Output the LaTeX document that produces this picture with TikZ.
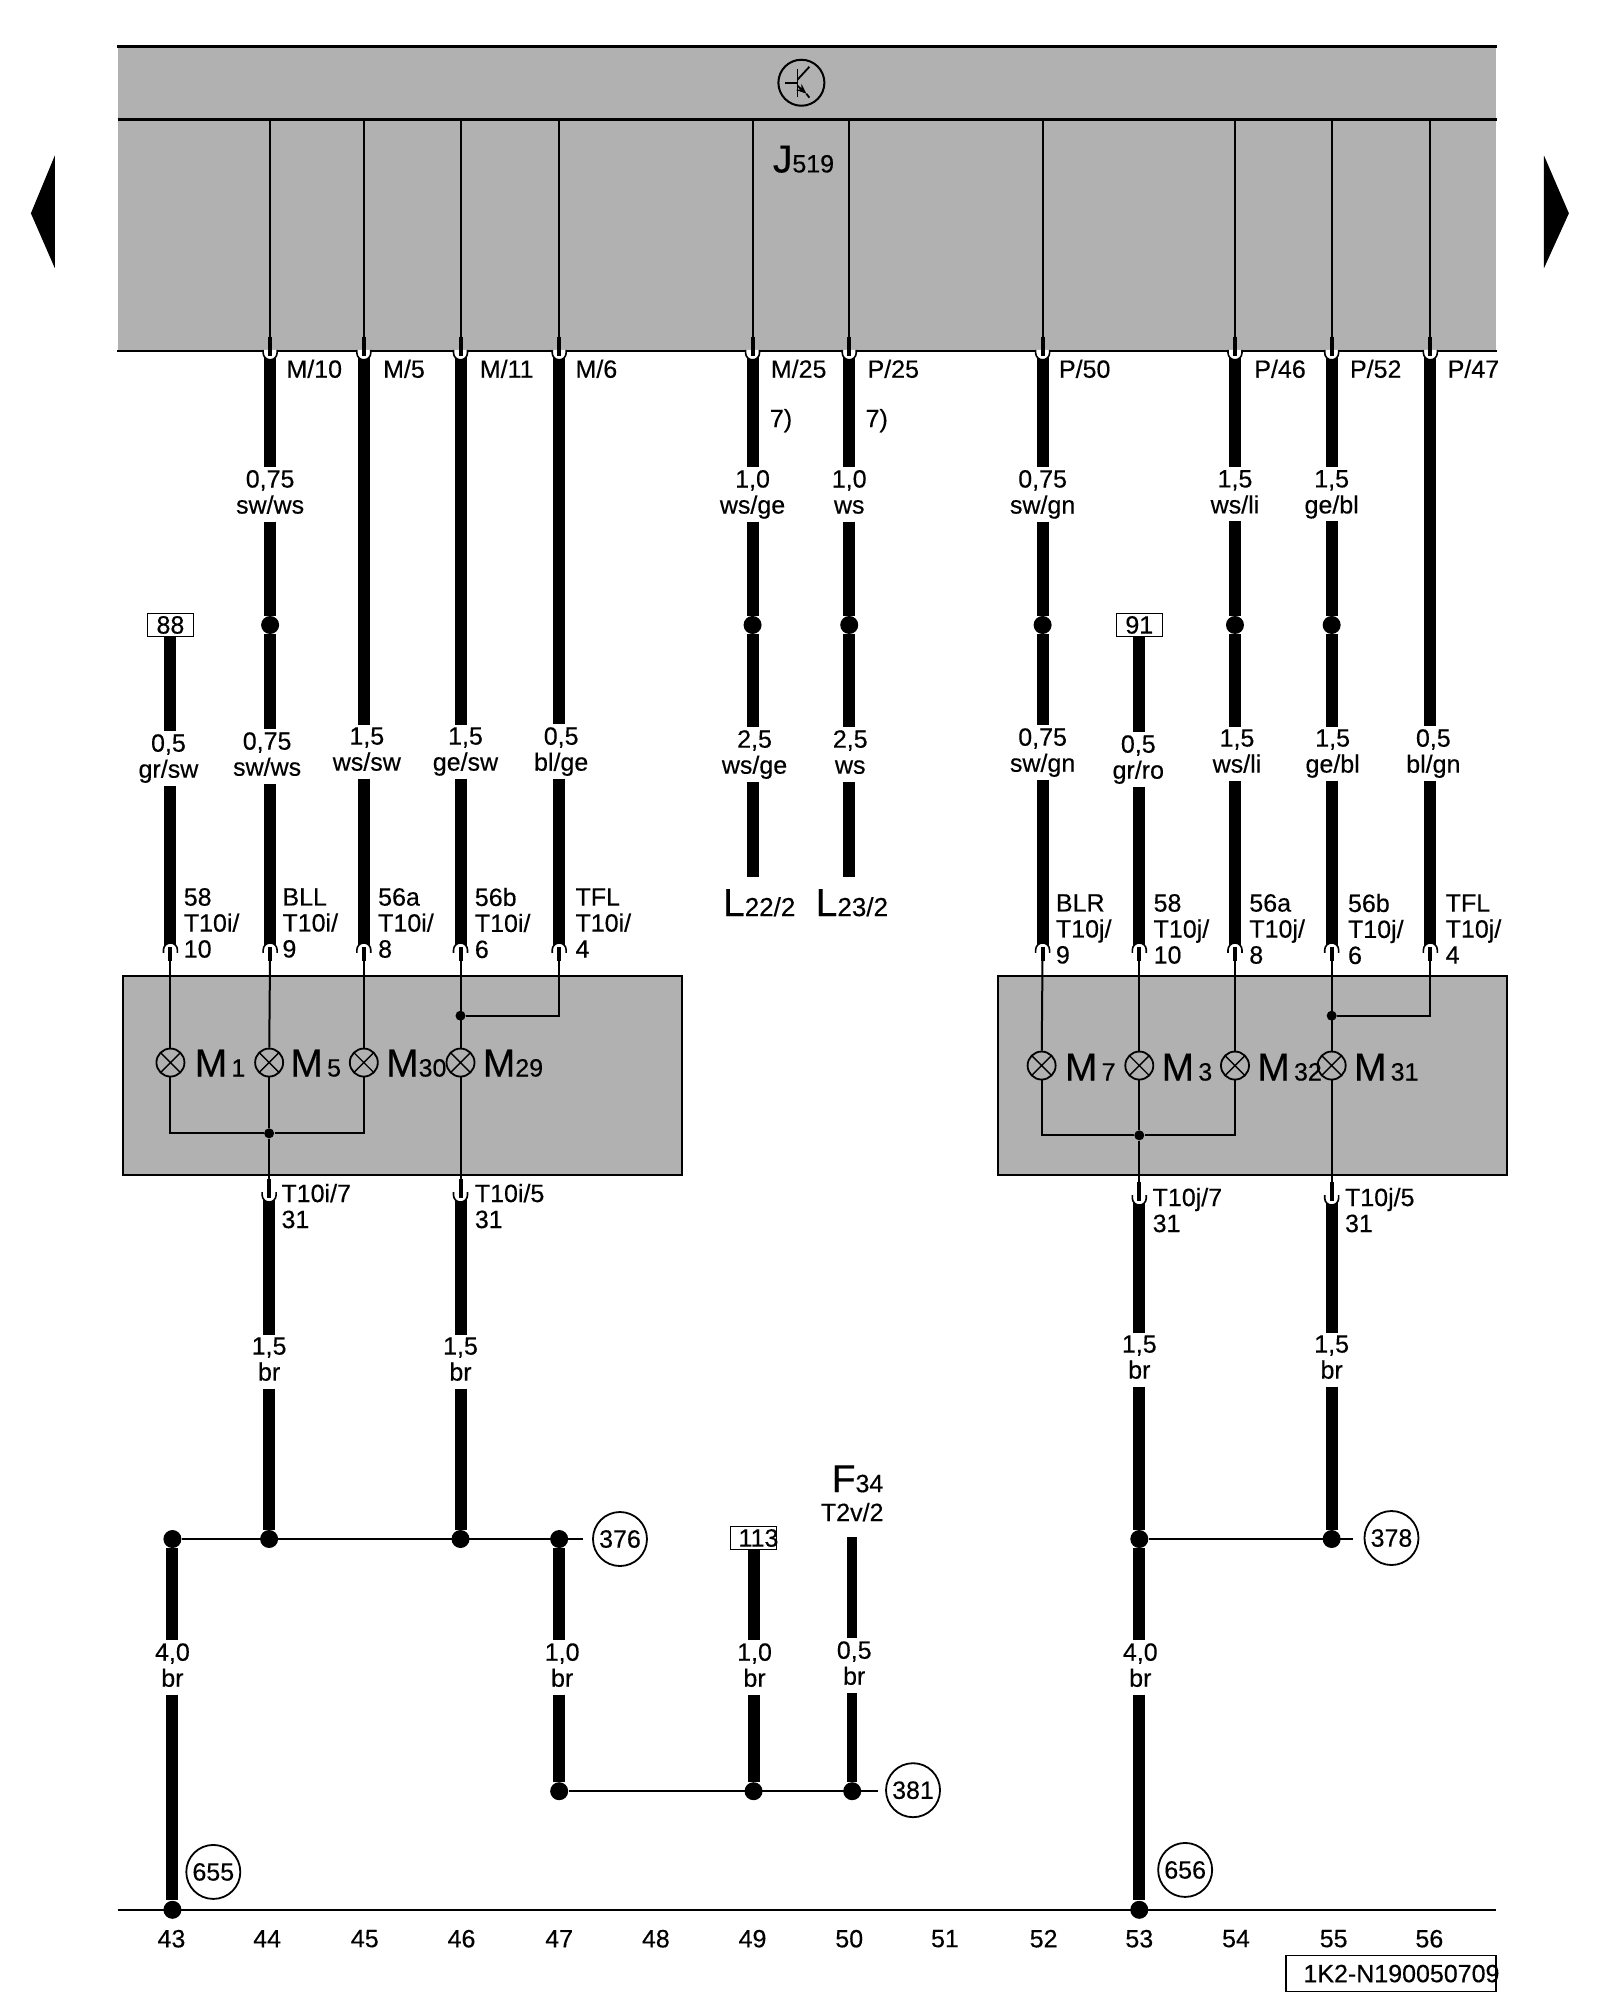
\documentclass[tikz,border=0pt]{standalone}
\usepackage{fontspec}
\setmainfont{Liberation Sans}[FakeBold=0.35]
\usetikzlibrary{arrows.meta}
\newcommand{\compname}[3][12.5]{{\fontsize{19.5}{20}\selectfont #2}{\fontsize{#1}{12}\selectfont #3}}
\definecolor{unitgray}{HTML}{B1B1B1}
\tikzset{
    wire/.style={line width=6pt},
    thinwire/.style={line width=1pt},
    rail/.style={line width=1.2pt},
    cs/.style={align=center, inner sep=1.2pt, font=\fontsize{12.5}{13}\selectfont, execute at end node=\vphantom{g/}},
    pinlab/.style={anchor=west, align=left, inner sep=0pt, font=\fontsize{12.5}{13}\selectfont},
    num/.style={inner sep=0pt, font=\fontsize{12.5}{13}\selectfont},
    partlab/.style={anchor=base west, inner sep=0pt},
    unitbox/.style={draw, line width=1pt, fill=unitgray, inner sep=0pt},
    termbox/.style={draw, line width=0.8pt, fill=white, inner sep=0pt, minimum width=23pt, minimum height=11.5pt, font=\fontsize{12.5}{13}\selectfont},
    term/.style={circle, draw, line width=0.9pt, inner sep=0pt, minimum size=27pt, font=\fontsize{12.5}{13}\selectfont},
    bigdot/.style={circle, fill=black, inner sep=0pt, minimum size=9pt},
    smalldot/.style={circle, fill=black, inner sep=0pt, minimum size=5pt},
    lamp/.style={circle, draw, line width=0.9pt, inner sep=0pt, minimum size=14pt,
        path picture={\draw[line width=0.7pt] (path picture bounding box.north west) -- (path picture bounding box.south east)
            (path picture bounding box.north east) -- (path picture bounding box.south west);}},
    pics/cupup/.style={code={
        \draw[line width=0.8pt, fill=white] (-7,-1) -- (-7,2) arc[start angle=180, end angle=0, radius=7] -- (7,-1);
        \draw[line width=2pt] (0,-14) -- (0,5);
    }},
    pics/cupdown/.style={code={
        \draw[line width=0.8pt, fill=white] (-7,6) -- (-7,3) arc[start angle=180, end angle=360, radius=7] -- (7,6);
        \draw[line width=2pt] (0,0) -- (0,14);
    }}
}
\begin{document}
\begin{tikzpicture}[x=0.4983pt, y=-0.4983pt]
    \useasboundingbox (0,0) rectangle (1605.5,2006.5);

    % side arrows
    \fill (31,214) -- (55,156) -- (55,269) -- cycle;
    \fill (1574,214) -- (1549,156) -- (1549,269) -- cycle;

    % control unit
    \node[fill=unitgray, inner sep=0pt, minimum width=689.2pt, minimum height=152pt] (J519) at (809.5,199.5) {};
    \coordinate (rowJ) at (118,120);
    \draw[rail] (J519.north west) -- (J519.north east);
    \draw[rail] (rowJ) -- (rowJ -| J519.east);
    \node[circle, draw, line width=1pt, inner sep=0pt, minimum size=23pt] (sym) at (804,83) {};
    \begin{scope}[shift={(804,83)}, line width=0.9pt]
        \draw (-16,0) -- (-4,0);
        \draw (-4,-14) -- (-4,14);
        \draw (-4,-3) -- (8,-16);
        \draw[-{Stealth[length=5pt, width=4pt]}] (-4,3) -- (5,11);
        \draw (5,11) -- (8,15);
    \end{scope}
    \node[partlab] (nameJ) at (775,173) {\compname{J}{519}};

    % lamp housings
    \node[unitbox, minimum width=279.5pt, minimum height=99.7pt] (boxL) at (403.5,1079) {};
    \node[unitbox, minimum width=254.6pt, minimum height=99.7pt] (boxR) at (1256.5,1079) {};

    % wires from the unit down to the first joint
    \foreach \n/\x/\txt in {a/271/{0,75\\sw/ws}, e/755/{1,0\\ws/ge}, f/852/{1,0\\ws}, g/1046/{0,75\\sw/gn}, j/1239/{1,5\\ws/li}, k/1336/{1,5\\ge/bl}} {
        \coordinate (top\n) at (\x,356);
        \node[cs] (up\n) at (\x,496) {\txt};
        \node[bigdot] (dot\n) at (\x,627) {};
        \draw[wire] (top\n) -- (top\n |- up\n.north);
        \draw[wire] (top\n |- up\n.south) -- (dot\n);
    }
    \foreach \n/\x in {b/365, c/462, d/561, l/1435} {
        \coordinate (top\n) at (\x,356);
    }
    \node[termbox] (term88) at (171,627) {88};
    \node[termbox] (term91) at (1143,627) {91};

    % wires from the joint down to the lamps
    \foreach \n/\x/\lx/\ly/\yend/\from/\txt in {
        a/271/268/759/950/dota/{0,75\\sw/ws},
        b/365/368/754/950/topb/{1,5\\ws/sw},
        c/462/467/754/950/topc/{1,5\\ge/sw},
        d/561/563/754/950/topd/{0,5\\bl/ge},
        e/755/757/757/880/dote/{2,5\\ws/ge},
        f/852/853/757/880/dotf/{2,5\\ws},
        g/1046/1046/755/950/dotg/{0,75\\sw/gn},
        h/171/169/761/950/term88.south/{0,5\\gr/sw},
        i/1143/1142/762/950/term91.south/{0,5\\gr/ro},
        j/1239/1241/756/950/dotj/{1,5\\ws/li},
        k/1336/1337/756/950/dotk/{1,5\\ge/bl},
        l/1435/1438/756/950/topl/{0,5\\bl/gn}} {
        \node[cs] (lo\n) at (\lx,\ly) {\txt};
        \coordinate (pin\n) at (\x,\yend);
        \draw[wire] (\from) -- (pin\n |- lo\n.north);
        \draw[wire] (pin\n |- lo\n.south) -- (pin\n);
    }
    \node[partlab] (nameLa) at (725,919) {\compname[13]{L}{22/2}};
    \node[partlab] (nameLb) at (818,919) {\compname[13]{L}{23/2}};

    % thin wires inside the unit
    \foreach \n in {a,e,f,g,j,k,b,c,d,l} {
        \draw[thinwire] (top\n) -- (top\n |- rowJ);
    }
    \draw[rail] (J519.south west) -- (J519.south east);
    \foreach \n in {a,e,f,g,j,k,b,c,d,l} {
        \pic at (top\n |- 0,352) {cupup};
    }

    % pin names at the unit
    \foreach \x/\txt in {287/{M/10}, 384/{M/5}, 481/{M/11}, 577/{M/6}, 773/{M/25}, 870/{P/25}, 1062/{P/50}, 1258/{P/46}, 1354/{P/52}, 1452/{P/47}} {
        \node[pinlab] (pn\x) at (\x,370) {\txt};
    }
    \node[pinlab] (noteE) at (772,422) {7)};
    \node[pinlab] (noteF) at (868,422) {7)};

    % lamps left
    \node[lamp] (M1) at (171,1066) {};
    \node[lamp] (M5) at (270,1066) {};
    \node[lamp] (M30) at (365,1066) {};
    \node[lamp] (M29) at (462,1066) {};
    \node[partlab] (nameM1) at (195,1080) {\compname{M}{\,1}};
    \node[partlab] (nameM5) at (291,1080) {\compname{M}{\,5}};
    \node[partlab] (nameM30) at (387,1080) {\compname{M}{30}};
    \node[partlab] (nameM29) at (484,1080) {\compname{M}{29}};
    \node[smalldot] (joinL) at (270,1137) {};
    \node[smalldot] (tflL) at (462,1019) {};
    \coordinate (pinm) at (270,1197);
    \coordinate (pinn) at (462,1197);
    \draw[thinwire] (pinh) -- (M1);
    \draw[thinwire] (pina) -- (M5);
    \draw[thinwire] (pinb) -- (M30);
    \draw[thinwire] (pinc) -- (M29);
    \draw[thinwire] (pind) |- (tflL);
    \draw[thinwire] (M1) |- (joinL) -| (M30);
    \draw[thinwire] (M5) -- (joinL) -- (pinm);
    \draw[thinwire] (M29) -- (pinn);

    % lamps right
    \node[lamp] (M7) at (1045,1069) {};
    \node[lamp] (M3) at (1143,1069) {};
    \node[lamp] (M32) at (1239,1069) {};
    \node[lamp] (M31) at (1336,1069) {};
    \node[partlab] (nameM7) at (1068,1084) {\compname{M}{\,7}};
    \node[partlab] (nameM3) at (1165,1084) {\compname{M}{\,3}};
    \node[partlab] (nameM32) at (1261,1084) {\compname{M}{\,32}};
    \node[partlab] (nameM31) at (1358,1084) {\compname{M}{\,31}};
    \node[smalldot] (joinR) at (1143,1139) {};
    \node[smalldot] (tflR) at (1336,1019) {};
    \coordinate (pino) at (1143,1200);
    \coordinate (pinp) at (1336,1200);
    \draw[thinwire] (ping) -- (M7);
    \draw[thinwire] (pini) -- (M3);
    \draw[thinwire] (pinj) -- (M32);
    \draw[thinwire] (pink) -- (M31);
    \draw[thinwire] (pinl) |- (tflR);
    \draw[thinwire] (M7) |- (joinR) -| (M32);
    \draw[thinwire] (M3) -- (joinR) -- (pino);
    \draw[thinwire] (M31) -- (pinp);

    \foreach \n in {a,b,c,d,g,h,i,j,k,l} {
        \pic at (pin\n) {cupdown};
    }

    % pin names at the lamps
    \foreach \n/\x/\y/\txt in {
        h/184/926/{58\\T10i/\\10}, a/283/926/{BLL\\T10i/\\9}, b/379/926/{56a\\T10i/\\8}, c/476/926/{56b\\T10i/\\6}, d/577/926/{TFL\\T10i/\\4},
        g/1059/932/{BLR\\T10j/\\9}, i/1157/932/{58\\T10j/\\10}, j/1253/932/{56a\\T10j/\\8}, k/1352/932/{56b\\T10j/\\6}, l/1450/932/{TFL\\T10j/\\4}} {
        \node[pinlab] (lamppin\n) at (\x,\y) {\txt};
    }
    \node[pinlab] (gndm) at (282,1210) {T10i/7\\31};
    \node[pinlab] (gndn) at (476,1210) {T10i/5\\31};
    \node[pinlab] (gndo) at (1156,1214) {T10j/7\\31};
    \node[pinlab] (gndp) at (1349,1214) {T10j/5\\31};

    % ground wires to the first ground bus
    \node[bigdot] (bus44) at (270,1544) {};
    \node[bigdot] (bus46) at (462,1544) {};
    \node[bigdot] (bus53) at (1143,1544) {};
    \node[bigdot] (bus55) at (1336,1544) {};
    \node[bigdot] (bus43) at (173,1544) {};
    \node[bigdot] (bus47) at (561,1544) {};
    \foreach \n/\y/\dotname in {m/1366/bus44, n/1366/bus46, o/1364/bus53, p/1364/bus55} {
        \node[cs] (gl\n) at (pin\n |- 0,\y) {1,5\\br};
        \draw[wire] (pin\n) -- (pin\n |- gl\n.north);
        \draw[wire] (pin\n |- gl\n.south) -- (\dotname);
        \pic at (pin\n) {cupup};
    }

    % buses
    \coordinate (end376) at (585,1544);
    \coordinate (end378) at (1357,1544);
    \coordinate (end381) at (881,1797);
    \draw[thinwire] (bus43) -- (end376);
    \draw[thinwire] (bus53) -- (end378);
    \node[term] (t376) at (622,1544) {376};
    \node[term] (t378) at (1396,1543) {378};
    \node[term] (t381) at (916,1796) {381};

    \node[bigdot] (bus47b) at (561,1797) {};
    \node[bigdot] (bus49) at (756,1797) {};
    \node[bigdot] (bus50) at (855,1797) {};
    \draw[thinwire] (bus47b) -- (end381);
    \node[termbox] (term113) at (756,1543) {\makebox[19pt][l]{\hspace{2pt}113}};
    \coordinate (topF) at (855,1542);
    \node[partlab] (nameF) at (834,1497) {\compname{F}{34}};
    \node[num] (pinF) at (855,1517) {T2v/2};

    \node[cs] (lb47) at (564,1673) {1,0\\br};
    \node[cs] (lb49) at (757,1673) {1,0\\br};
    \node[cs] (lb50) at (857,1671) {0,5\\br};
    \node[cs] (lb43) at (173,1673) {4,0\\br};
    \node[cs] (lb53) at (1144,1673) {4,0\\br};
    \node[bigdot] (rail43) at (173,1916) {};
    \node[bigdot] (rail53) at (1143,1916) {};

    \draw[wire] (bus47) -- (bus47 |- lb47.north);
    \draw[wire] (bus47 |- lb47.south) -- (bus47b);
    \draw[wire] (term113.south) -- (term113.south |- lb49.north);
    \draw[wire] (bus49 |- lb49.south) -- (bus49);
    \draw[wire, line width=5pt] (topF) -- (topF |- lb50.north);
    \draw[wire, line width=5pt] (topF |- lb50.south) -- (bus50);
    \draw[wire] (bus43) -- (bus43 |- lb43.north);
    \draw[wire] (bus43 |- lb43.south) -- (rail43);
    \draw[wire] (bus53) -- (bus53 |- lb53.north);
    \draw[wire] (bus53 |- lb53.south) -- (rail53);

    % bottom rail and numbers
    \coordinate (railL) at (118,1916);
    \coordinate (railR) at (1501,1916);
    \draw[rail] (railL) -- (railR);
    \node[term] (t655) at (214,1878) {655};
    \node[term] (t656) at (1189,1876) {656};
    \foreach \n/\x in {43/172, 44/268, 45/366, 46/463, 47/561, 48/658, 49/755, 50/852, 51/948, 52/1047, 53/1143, 54/1240, 55/1338, 56/1434} {
        \node[num] (col\n) at (\x,1945) {\n};
    }
    \node[termbox, minimum width=105.1pt, minimum height=18pt] (stamp) at (1395.5,1980) {\makebox[100pt][l]{\hspace{6.25pt}1K2-N190050709}};
\end{tikzpicture}
\end{document}
